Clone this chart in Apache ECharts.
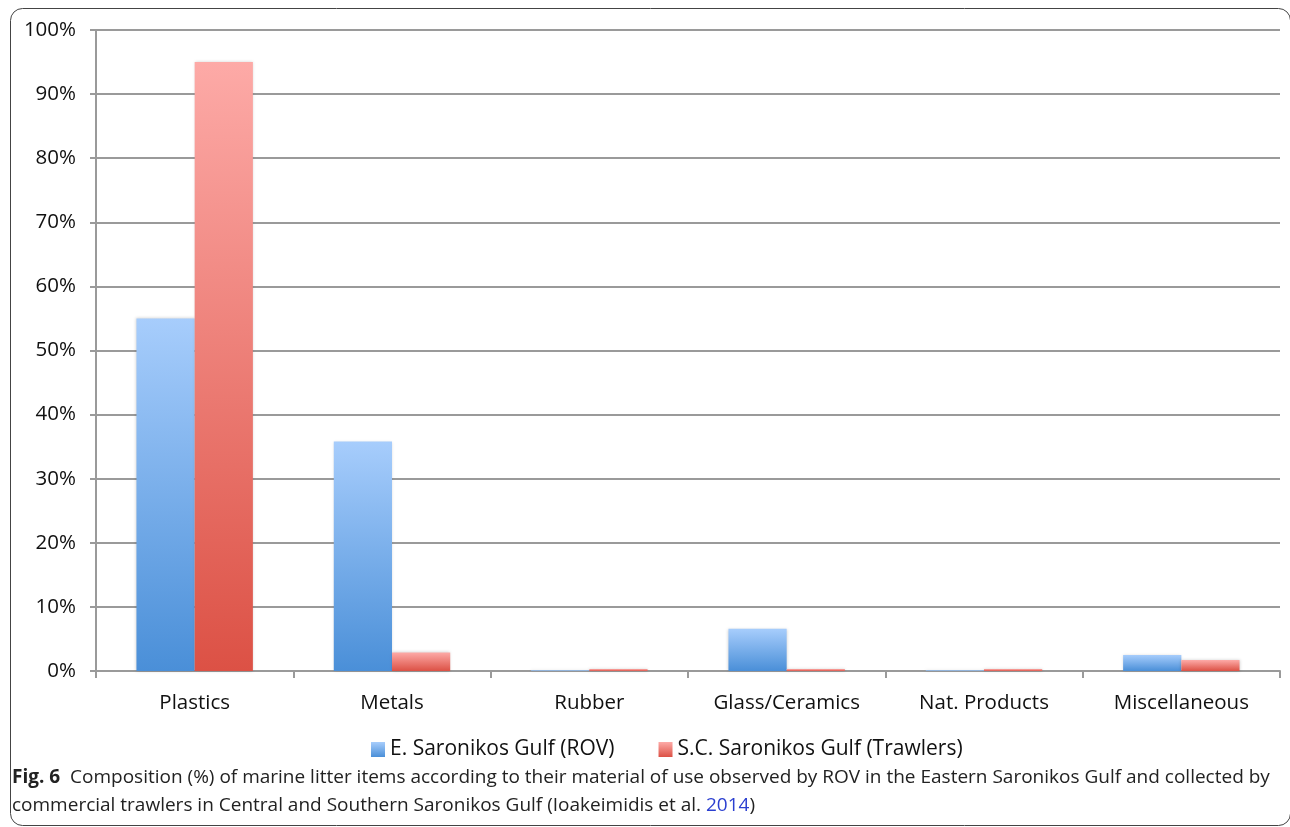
<!DOCTYPE html>
<html>
<head>
<meta charset="utf-8">
<script src="https://cdn.jsdelivr.net/npm/echarts@6/dist/echarts.min.js"></script>
<style>
  html, body { margin: 0; padding: 0; background: #fff; }
  #chart { width: 1290px; height: 827px; }
</style>
</head>
<body>
<div id="chart"></div>
<script>
// Material categories and the share (%) of litter items in each
const categories = ['Plastics', 'Metals', 'Rubber', 'Glass/Ceramics', 'Nat. Products', 'Miscellaneous'];
const rovValues = [55, 35.8, 0.1, 6.6, 0.1, 2.5];
const trawlValues = [95, 2.9, 0.3, 0.3, 0.3, 1.7];
const seriesNames = ['E. Saronikos Gulf (ROV)', 'S.C. Saronikos Gulf (Trawlers)'];
const yTicks = [0, 10, 20, 30, 40, 50, 60, 70, 80, 90, 100];

const FONT = '"Open Sans", "Noto Sans", sans-serif';

function grad(top, bottom) {
  return new echarts.graphic.LinearGradient(0, 0, 0, 1, [
    { offset: 0, color: top },
    { offset: 1, color: bottom }
  ]);
}
const blueFill = grad('#a7cdfc', '#4a8fd8');
const redFill = grad('#fdaaa7', '#dc5145');

const chart = echarts.init(document.getElementById('chart'), null, { renderer: 'canvas' });

chart.setOption({
  animation: false,
  backgroundColor: '#fff',
  grid: { left: 96, right: 10, top: 30, bottom: 156 },
  legend: {
    data: seriesNames,
    top: 734,
    left: 366,
    itemWidth: 14,
    itemHeight: 15,
    itemGap: 44,
    textStyle: { fontFamily: FONT, fontSize: 21, color: '#111' },
    icon: 'rect'
  },
  xAxis: {
    type: 'category',
    data: categories,
    axisLine: { lineStyle: { color: '#9a9a9a', width: 2 } },
    axisTick: { show: true, length: 7, lineStyle: { color: '#9a9a9a', width: 2 } },
    axisLabel: { fontFamily: FONT, fontSize: 20.5, color: '#111', margin: 22 }
  },
  yAxis: {
    type: 'value',
    min: yTicks[0],
    max: yTicks[yTicks.length - 1],
    interval: 10,
    axisLine: { show: true, lineStyle: { color: '#9a9a9a', width: 2 } },
    axisTick: { show: true, length: 6, lineStyle: { color: '#9a9a9a', width: 2 } },
    axisLabel: { fontFamily: FONT, fontSize: 20.5, color: '#111', margin: 20, formatter: '{value}%' },
    splitLine: { lineStyle: { color: '#9a9a9a', width: 2 } }
  },
  series: [
    {
      name: seriesNames[0],
      type: 'bar',
      data: rovValues,
      barGap: '0%',
      barCategoryGap: '41%',
      itemStyle: { color: blueFill, shadowColor: 'rgba(0,0,0,0.18)', shadowBlur: 3 }
    },
    {
      name: seriesNames[1],
      type: 'bar',
      data: trawlValues,
      barGap: '0%',
      barCategoryGap: '41%',
      itemStyle: { color: redFill, shadowColor: 'rgba(0,0,0,0.18)', shadowBlur: 3 }
    }
  ],
  graphic: [
    {
      type: 'rect',
      shape: { x: 10.5, y: 8.5, width: 1280, height: 817, r: 12 },
      style: { fill: 'none', stroke: '#444', lineWidth: 1 },
      silent: true,
      z: -1
    },
    {
      type: 'text',
      left: 12,
      top: 764,
      style: {
        text: '{b|Fig. 6}  Composition (%) of marine litter items according to their material of use observed by ROV in the Eastern Saronikos Gulf and collected by\ncommercial trawlers in Central and Southern Saronikos Gulf (Ioakeimidis et al. {l|2014})',
        fontFamily: FONT,
        fontSize: 19,
        lineHeight: 28,
        fill: '#222',
        rich: {
          b: { fontFamily: FONT, fontSize: 19, fontWeight: 'bold', fill: '#222', lineHeight: 28 },
          l: { fontFamily: FONT, fontSize: 19, fill: '#2b3fd0', lineHeight: 28 }
        }
      }
    }
  ]
});
</script>
</body>
</html>
